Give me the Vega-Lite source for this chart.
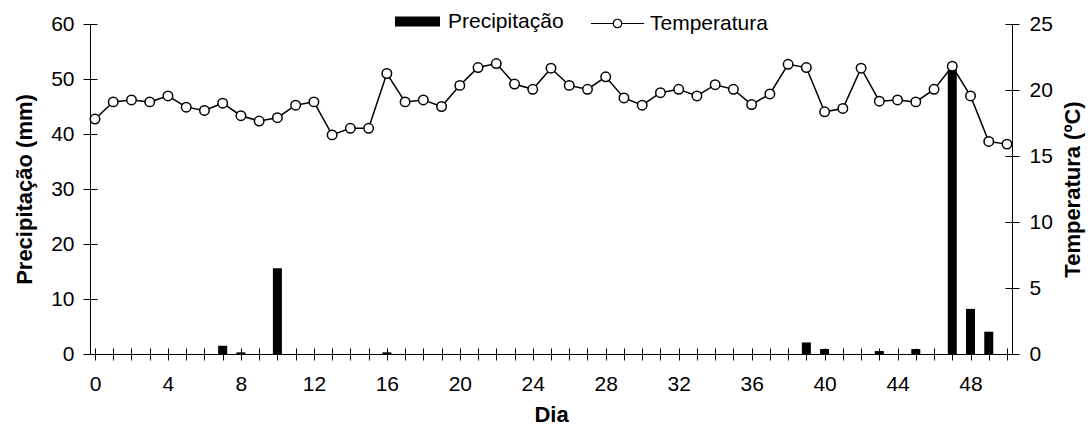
{
  "$schema": "https://vega.github.io/schema/vega-lite/v6.json",
  "width": 922,
  "height": 330,
  "autosize": "none",
  "padding": {"left": 90, "top": 24, "right": 76, "bottom": 75},
  "background": "white",
  "config": {
    "font": "Liberation Sans",
    "view": {"stroke": null},
    "axis": {
      "grid": false,
      "domainColor": "black",
      "tickColor": "black",
      "labelColor": "black",
      "titleColor": "black",
      "labelFontSize": 21,
      "titleFontSize": 22,
      "titleFontWeight": "bold",
      "labelFont": "Liberation Sans",
      "titleFont": "Liberation Sans",
      "domainWidth": 1,
      "tickWidth": 1
    },
    "legend": {"labelFont": "Liberation Sans", "labelFontSize": 21, "labelColor": "black", "padding": 0}
  },
  "data": {
    "values": [
      {"dia": 0, "temp": 17.8, "prec": 0},
      {"dia": 1, "temp": 19.1, "prec": 0},
      {"dia": 2, "temp": 19.25, "prec": 0},
      {"dia": 3, "temp": 19.1, "prec": 0},
      {"dia": 4, "temp": 19.55, "prec": 0},
      {"dia": 5, "temp": 18.7, "prec": 0},
      {"dia": 6, "temp": 18.45, "prec": 0},
      {"dia": 7, "temp": 19.0, "prec": 1.5},
      {"dia": 8, "temp": 18.05, "prec": 0.3},
      {"dia": 9, "temp": 17.65, "prec": 0},
      {"dia": 10, "temp": 17.9, "prec": 15.6},
      {"dia": 11, "temp": 18.85, "prec": 0},
      {"dia": 12, "temp": 19.1, "prec": 0},
      {"dia": 13, "temp": 16.6, "prec": 0},
      {"dia": 14, "temp": 17.1, "prec": 0},
      {"dia": 15, "temp": 17.1, "prec": 0},
      {"dia": 16, "temp": 21.25, "prec": 0.3},
      {"dia": 17, "temp": 19.1, "prec": 0},
      {"dia": 18, "temp": 19.25, "prec": 0},
      {"dia": 19, "temp": 18.75, "prec": 0},
      {"dia": 20, "temp": 20.35, "prec": 0},
      {"dia": 21, "temp": 21.7, "prec": 0},
      {"dia": 22, "temp": 22.0, "prec": 0},
      {"dia": 23, "temp": 20.45, "prec": 0},
      {"dia": 24, "temp": 20.05, "prec": 0},
      {"dia": 25, "temp": 21.65, "prec": 0},
      {"dia": 26, "temp": 20.35, "prec": 0},
      {"dia": 27, "temp": 20.05, "prec": 0},
      {"dia": 28, "temp": 21.0, "prec": 0},
      {"dia": 29, "temp": 19.4, "prec": 0},
      {"dia": 30, "temp": 18.85, "prec": 0},
      {"dia": 31, "temp": 19.8, "prec": 0},
      {"dia": 32, "temp": 20.05, "prec": 0},
      {"dia": 33, "temp": 19.55, "prec": 0},
      {"dia": 34, "temp": 20.4, "prec": 0},
      {"dia": 35, "temp": 20.05, "prec": 0},
      {"dia": 36, "temp": 18.9, "prec": 0},
      {"dia": 37, "temp": 19.7, "prec": 0},
      {"dia": 38, "temp": 21.95, "prec": 0},
      {"dia": 39, "temp": 21.7, "prec": 2.1},
      {"dia": 40, "temp": 18.35, "prec": 0.9},
      {"dia": 41, "temp": 18.6, "prec": 0},
      {"dia": 42, "temp": 21.65, "prec": 0},
      {"dia": 43, "temp": 19.15, "prec": 0.55},
      {"dia": 44, "temp": 19.25, "prec": 0},
      {"dia": 45, "temp": 19.1, "prec": 0.9},
      {"dia": 46, "temp": 20.05, "prec": 0},
      {"dia": 47, "temp": 21.8, "prec": 52},
      {"dia": 48, "temp": 19.55, "prec": 8.2},
      {"dia": 49, "temp": 16.1, "prec": 4.05},
      {"dia": 50, "temp": 15.9, "prec": 0}
    ]
  },
  "layer": [
    {
      "transform": [{"filter": "datum.prec > 0"}],
      "mark": {"type": "bar", "width": 9},
      "encoding": {
        "x": {
          "field": "dia",
          "type": "quantitative",
          "scale": {"domain": [0, 50], "nice": false, "zero": false},
          "axis": {
            "orient": "bottom",
            "title": "Dia",
            "values": [0,1,2,3,4,5,6,7,8,9,10,11,12,13,14,15,16,17,18,19,20,21,22,23,24,25,26,27,28,29,30,31,32,33,34,35,36,37,38,39,40,41,42,43,44,45,46,47,48,49,50],
            "labelExpr": "datum.value % 4 === 0 ? datum.label : ''",
            "labelOverlap": false,
            "labelFlush": false,
            "tickSize": 6,
            "labelPadding": 13,
            "titlePadding": 10
          }
        },
        "y": {
          "field": "prec",
          "type": "quantitative",
          "scale": {"domain": [0, 60], "nice": false},
          "axis": {
            "title": "Precipitação (mm)",
            "values": [0, 10, 20, 30, 40, 50, 60],
            "tickSize": 7,
            "labelPadding": 9,
            "titlePadding": 14
          }
        },
        "fill": {
          "datum": "Precipitação",
          "scale": {"range": ["black"]},
          "legend": {
            "title": null,
            "orient": "none",
            "legendX": 305,
            "legendY": -25,
            "symbolType": "M-1,-0.22H1V0.22H-1Z",
            "symbolSize": 2025,
            "symbolFillColor": "black",
            "symbolStrokeWidth": 0,
            "labelOffset": 8
          }
        }
      }
    },
    {
      "mark": {
        "type": "line",
        "strokeWidth": 1.5,
        "point": {"filled": true, "fill": "white", "stroke": "black", "strokeWidth": 1.5, "size": 90}
      },
      "encoding": {
        "x": {
          "field": "dia",
          "type": "quantitative",
          "axis": {
            "orient": "bottom",
            "values": [0,1,2,3,4,5,6,7,8,9,10,11,12,13,14,15,16,17,18,19,20,21,22,23,24,25,26,27,28,29,30,31,32,33,34,35,36,37,38,39,40,41,42,43,44,45,46,47,48,49,50],
            "title": null,
            "labels": false,
            "domain": false,
            "offset": -6,
            "tickSize": 6
          }
        },
        "y": {
          "field": "temp",
          "type": "quantitative",
          "scale": {"domain": [0, 25], "nice": false, "zero": true},
          "axis": {
            "orient": "right",
            "title": "Temperatura (ºC)",
            "titleAngle": 270,
            "titleBaseline": "top",
            "values": [0, 5, 10, 15, 20, 25],
            "tickSize": 7,
            "labelPadding": 10,
            "titlePadding": 10
          }
        },
        "stroke": {
          "datum": "Temperatura",
          "scale": {"range": ["black"]},
          "legend": {
            "title": null,
            "orient": "none",
            "legendX": 500,
            "legendY": -28,
            "symbolType": "M-1,0H-0.16M0.16,0H1M0.16,0A0.16,0.16,0,1,1,-0.16,0A0.16,0.16,0,1,1,0.16,0",
            "symbolSize": 2809,
            "symbolStrokeColor": "black",
            "symbolFillColor": "white",
            "symbolStrokeWidth": 1.2,
            "labelOffset": 5
          }
        }
      }
    },
    {
      "mark": {"type": "point", "opacity": 0},
      "encoding": {
        "x": {"field": "dia", "type": "quantitative", "axis": null},
        "y": {
          "field": "prec",
          "type": "quantitative",
          "scale": {"domain": [0, 60], "nice": false},
          "axis": {
            "orient": "left",
            "values": [0, 10, 20, 30, 40, 50, 60],
            "title": null,
            "labels": false,
            "domain": false,
            "offset": -7,
            "tickSize": 7
          }
        }
      }
    },
    {
      "mark": {"type": "point", "opacity": 0},
      "encoding": {
        "x": {"field": "dia", "type": "quantitative", "axis": null},
        "y": {
          "field": "temp",
          "type": "quantitative",
          "scale": {"domain": [0, 25], "nice": false, "zero": true},
          "axis": {
            "orient": "right",
            "values": [0, 5, 10, 15, 20, 25],
            "title": null,
            "labels": false,
            "domain": false,
            "offset": -7,
            "tickSize": 7
          }
        }
      }
    }
  ],
  "resolve": {"scale": {"y": "independent"}, "axis": {"x": "independent"}}
}
